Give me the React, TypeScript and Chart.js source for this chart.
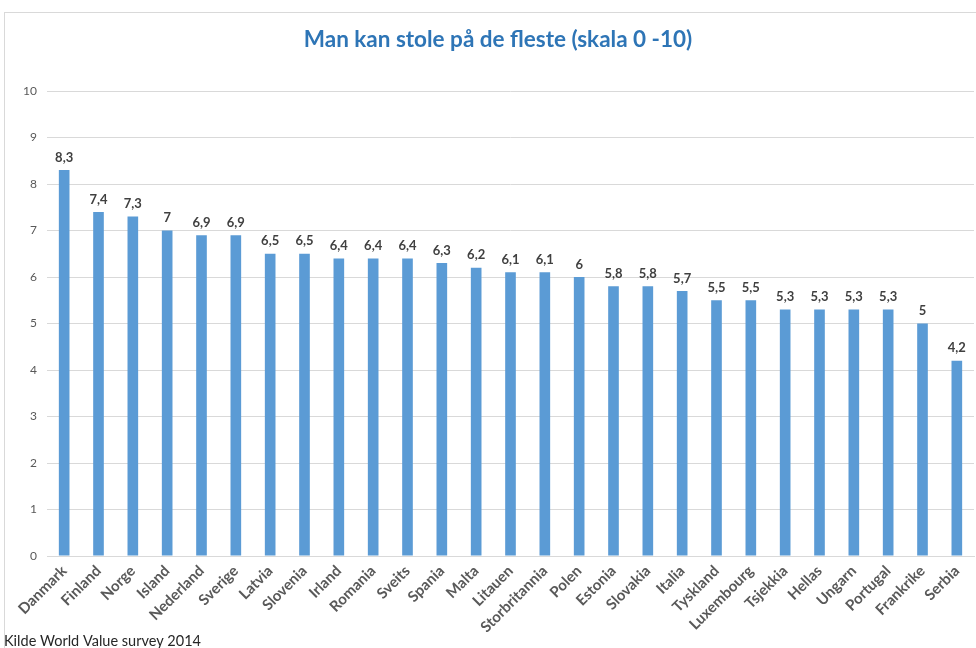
import React, { useEffect, useRef } from "react";
import { Chart, registerables } from "chart.js";

Chart.register(...registerables);

const categories = [
  "Danmark", "Finland", "Norge", "Island", "Nederland", "Sverige", "Latvia", "Slovenia",
  "Irland", "Romania", "Sveits", "Spania", "Malta", "Litauen", "Storbritannia", "Polen",
  "Estonia", "Slovakia", "Italia", "Tyskland", "Luxembourg", "Tsjekkia", "Hellas", "Ungarn",
  "Portugal", "Frankrike", "Serbia",
];
const values = [
  8.3, 7.4, 7.3, 7, 6.9, 6.9, 6.5, 6.5, 6.4, 6.4, 6.4, 6.3, 6.2, 6.1, 6.1, 6,
  5.8, 5.8, 5.7, 5.5, 5.5, 5.3, 5.3, 5.3, 5.3, 5, 4.2,
];
const yTicks = [0, 1, 2, 3, 4, 5, 6, 7, 8, 9, 10];
const titleText = "Man kan stole på de fleste (skala 0 -10)";
const sourceText = "Kilde World Value survey 2014";

const FONT = "Lato, 'Open Sans', sans-serif";

const framePlugin = {
  id: "frame",
  beforeDraw(chart: any) {
    const ctx = chart.ctx;
    ctx.save();
    ctx.fillStyle = "#ffffff";
    ctx.fillRect(0, 0, chart.width, chart.height);
    ctx.strokeStyle = "#d9d9d9";
    ctx.lineWidth = 1;
    ctx.strokeRect(4.5, 12.5, chart.width + 20, chart.height + 20);
    ctx.restore();
  },
  afterDraw(chart: any) {
    const ctx = chart.ctx;
    ctx.save();
    ctx.fillStyle = "#2E75B6";
    ctx.font = `bold 22.5px ${FONT}`;
    ctx.textAlign = "center";
    ctx.textBaseline = "middle";
    ctx.fillText(titleText, 498, 40);
    ctx.fillStyle = "#262626";
    ctx.font = `14.5px ${FONT}`;
    ctx.textAlign = "left";
    ctx.fillText(sourceText, 4, 641);
    ctx.restore();
  },
};

const valueLabelPlugin = {
  id: "valueLabels",
  afterDatasetsDraw(chart: any) {
    const ctx = chart.ctx;
    const meta = chart.getDatasetMeta(0);
    const data = chart.data.datasets[0].data as number[];
    ctx.save();
    ctx.fillStyle = "#404040";
    ctx.font = `bold 13px ${FONT}`;
    ctx.textAlign = "center";
    ctx.textBaseline = "bottom";
    meta.data.forEach((bar: any, i: number) => {
      const txt = String(data[i]).replace(".", ",");
      ctx.fillText(txt, bar.x, bar.y - 6);
    });
    ctx.restore();
  },
};

export default function App() {
  const ref = useRef<HTMLCanvasElement | null>(null);
  useEffect(() => {
    if (!ref.current) return;
    const chart = new Chart(ref.current, {
      type: "bar",
      data: {
        labels: categories,
        datasets: [
          {
            data: values,
            backgroundColor: "#5B9BD5",
            borderWidth: 0,
            barPercentage: 0.31,
            categoryPercentage: 1,
          },
        ],
      },
      plugins: [framePlugin, valueLabelPlugin],
      options: {
        responsive: false,
        animation: false,
        layout: { padding: { left: 4, right: 2, top: 91, bottom: 0 } },
        plugins: {
          legend: { display: false },
          tooltip: { enabled: false },
          title: { display: false },
        },
        scales: {
          x: {
            grid: { display: false, drawTicks: false },
            border: { display: true, color: "#d9d9d9", width: 1 },
            ticks: {
              color: "#595959",
              font: { family: FONT, size: 15, weight: "bold" },
              minRotation: 45,
              maxRotation: 45,
              autoSkip: false,
              padding: 6,
            },
            afterFit(scale: any) {
              scale.height = 92;
            },
          },
          y: {
            min: 0,
            max: 10,
            afterBuildTicks(scale: any) {
              scale.ticks = yTicks.map((v) => ({ value: v }));
            },
            grid: { color: "#d9d9d9", drawTicks: false },
            border: { display: false },
            ticks: {
              color: "#595959",
              font: { family: FONT, size: 12 },
              padding: 10,
            },
            afterFit(scale: any) {
              scale.width = 43;
            },
          },
        },
      },
    });
    return () => chart.destroy();
  }, []);
  return (
    <div style={{ position: "absolute", left: 0, top: 0, width: 976, height: 648 }}>
      <canvas ref={ref} width={976} height={648} style={{ width: 976, height: 648 }} />
    </div>
  );
}
